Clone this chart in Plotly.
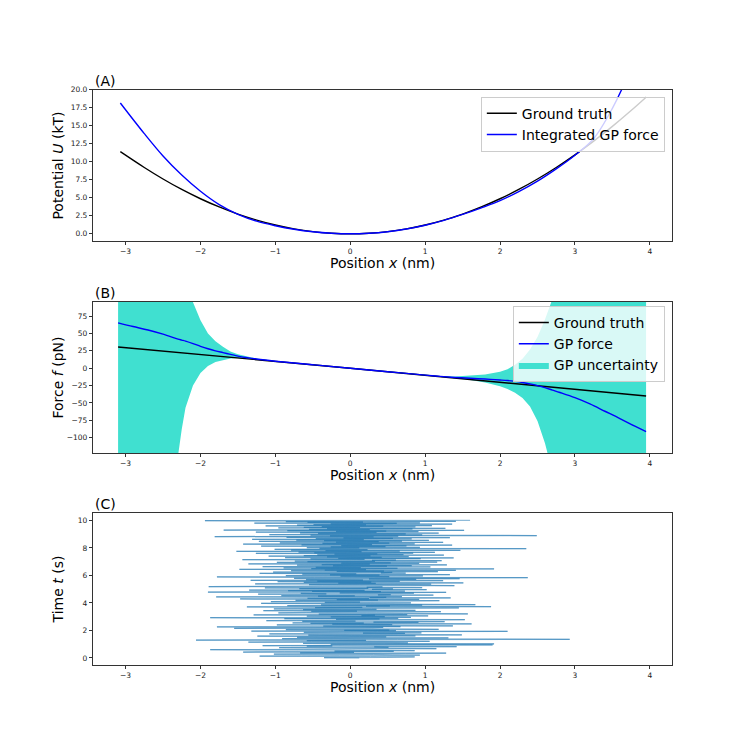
import numpy as np
import plotly.graph_objects as go

# (A) potential
pot_x = [-3.07, -2.75, -2.5, -2.25, -2.0, -1.75, -1.5, -1.25, -1.0, -0.75, -0.5, -0.25, 0.0,
         0.25, 0.5, 0.75, 1.0, 1.25, 1.5, 1.75, 2.0, 2.25, 2.5, 2.75, 3.0, 3.25, 3.5, 3.75, 3.95]
pot_true = [11.4, 9.2, 7.6, 6.15, 4.86, 3.72, 2.73, 1.9, 1.22, 0.68, 0.3, 0.08, 0.0,
            0.08, 0.3, 0.68, 1.22, 1.9, 2.73, 3.72, 4.86, 6.15, 7.6, 9.2, 10.95, 12.85, 14.9, 17.1, 18.95]
pot_gp = [18.15, 13.9, 10.8, 8.15, 5.9, 4.05, 2.7, 1.75, 1.12, 0.63, 0.28, 0.07, 0.0,
          0.07, 0.29, 0.66, 1.18, 1.85, 2.68, 3.6, 4.6, 5.85, 7.3, 9.0, 10.9, 13.2, 17.4, 23.0, 28.5]

# (B) force: GP mean and uncertainty band edges
force_x = [-3.10, -2.90, -2.70, -2.50, -2.30, -2.25, -2.20, -2.10, -2.00, -1.90, -1.80,
           -1.70, -1.60, -1.50, -1.40, -1.30, -1.20, -1.00, -0.50, 0.00, 0.50, 1.00,
           1.20, 1.40, 1.60, 1.80, 2.00, 2.10, 2.20, 2.30, 2.40, 2.50, 2.60, 2.70,
           2.80, 3.00, 3.20, 3.40, 3.60, 3.80, 3.95]
force_gp = [65.3, 60.0, 55.0, 49.0, 42.0, 40.5, 39.0, 35.5, 31.5, 28.0, 25.0,
            22.5, 20.0, 17.5, 15.5, 14.0, 12.5, 10.0, 5.0, 0.0, -5.0, -10.0,
            -11.8, -13.3, -14.5, -15.6, -17.0, -17.8, -19.0, -20.5, -22.5, -25.0, -28.0, -31.5,
            -35.0, -42.5, -51.5, -62.0, -72.5, -83.5, -91.5]
force_upper = [2500, 1300, 650, 350, 200, 165, 135, 95, 69, 50, 39,
               31, 24, 20, 17, 15, 13.2, 10.4, 5.2, 0.2, -4.8, -9.6,
               -11.1, -12.0, -11.0, -9.0, -5.0, -1.5, 5.0, 13.6, 27.0, 45.0, 70.0, 100.0,
               140.0, 260.0, 450.0, 750.0, 1200.0, 1800.0, 2400.0]
force_lower = [-2500, -1300, -600, -280, -125, -88, -57, -25, -7, 3, 9,
               12, 14, 14.8, 14, 13, 11.8, 9.6, 4.8, -0.2, -5.2, -10.4,
               -12.5, -14.6, -17.0, -20.5, -26.0, -30.0, -35.5, -43.0, -55.0, -76.0, -108.0, -150.0,
               -210.0, -380.0, -600.0, -950.0, -1400.0, -2000.0, -2600.0]
force_true_x = [-3.10, 0.0, 3.95]
force_true = [30.5, 0.0, -40.0]

# (C) trajectory positions (nm), equally spaced in time over 10 s
traj_x = [
    0.12, -0.35, 0.48, 0.86, 0.27, -1.21, -0.65, -0.14, 0.93, 0.56, 0.31, -1.02, -0.44, 0.74, 1.28, -0.67, 0.05, -1.43, -0.88, 0.58,
    -0.21, 0.86, 0.44, -0.19, -1.87, -0.62, 0.09, 1.15, 0.73, -0.38, -0.95, 0.51, 0.32, 1.42, -0.58, -0.24, -1.17, 0.69, 1.90, -0.26,
    0.34, 1.92, -0.63, -0.18, 0.77, 0.45, -1.36, -0.52, 1.06, 0.23, -0.58, 0.21, -2.06, 0.63, 2.93, 0.47, -0.91, -0.15, 1.31, -0.39,
    -0.71, 0.48, 0.12, -1.24, 0.87, 0.02, -0.56, 1.49, 0.33, -0.41, -1.08, 0.73, 0.17, 0.95, -0.62, -0.29, 0.36, 2.10, -1.32, 0.61,
    -0.08, 0.52, -0.86, 1.18, 0.41, 0.29, -1.55, -0.83, 0.12, 0.44, -1.78, 0.67, -0.36, 1.37, 0.69, 0.11, -0.98, 0.56, -0.24, 1.62,
    -0.53, 0.18, -0.77, 0.91, 0.31, 1.26, -0.64, 0.07, -1.12, -0.72, 0.45, 1.53, -0.19, 0.39, -0.88, 0.64, -1.41, -1.87, 0.81, -0.26,
    0.46, -0.58, 1.04, 0.15, 0.33, -1.29, 0.76, -0.42, 1.57, 0.71, 0.22, -0.96, -0.58, 0.35, 1.21, -0.52, 0.09, -1.16, 0.87, -0.11,
    -0.63, 0.35, -1.02, -0.71, 0.28, 1.45, -0.47, 0.16, -1.38, 1.88, 0.21, 0.53, -0.84, 0.96, -0.39, 1.67, 0.61, 0.27, -1.19, 0.44,
    0.81, -0.34, 0.13, -1.06, -0.62, 0.49, 1.19, -0.73, 0.37, -0.18, 0.92, -1.47, 0.25, -0.57, 1.34, 0.26, 0.48, -1.79, 0.69, -0.43,
    0.06, -0.92, 1.11, 0.37, 0.54, -1.23, -0.32, -0.66, 0.85, -0.14, 1.28, -1.90, 0.41, -0.51, 0.73, -0.83, 0.19, -1.35, 1.02, 0.29,
    0.57, -0.68, 0.24, -1.14, 0.96, 0.22, 0.43, -1.89, -0.71, -0.37, 1.39, 0.81, 0.12, -0.55, 1.08, -1.27, 0.34, -0.16, 1.51, -0.62,
    0.28, -0.97, 0.66, -0.44, 1.24, -1.33, 0.17, -0.59, 0.88, 0.25, 1.46, -0.75, 0.31, 2.37, -0.48, -1.78, 0.52, -0.13, 0.97, -0.86,
    0.39, -0.27, 1.33, -0.64, 0.08, -1.21, 0.74, 0.41, 0.56, -1.03, 1.17, -0.18, 0.45, -0.79, 1.41, -0.34, 0.21, -1.48, 1.92, -0.52,
    0.63, -0.89, 0.14, -0.46, 1.07, -1.17, 0.49, -0.23, 0.82, -0.71, 1.29, -0.38, 0.26, -1.36, 0.92, -0.12, 0.54, -0.98, 1.16, -0.57,
    0.33, -0.74, 1.22, 0.29, 0.61, -1.44, 0.19, -0.53, 0.94, -0.16, 1.38, -0.87, 0.42, -0.31, 0.78, -1.09, 0.27, -0.62, 1.25, -0.44,
    0.71, -0.21, 0.36, -1.26, 0.84, -0.48, 1.13, -0.69, 0.15, -1.52, 0.66, -0.33, 1.47, -0.79, 0.23, -1.01, 0.58, 2.35, -0.41, 0.12,
    -0.58, 0.93, -0.26, 0.47, -1.19, 0.75, -0.12, 1.36, -0.65, 0.29, -1.43, 0.86, -0.37, 0.52, -0.94, 1.24, -0.19, 0.38, -1.22, 0.69,
    -0.35, 1.05, -0.72, 0.18, -1.31, 0.82, -0.46, 0.57, -0.09, 1.33, -0.85, 0.31, -1.81, 0.64, -0.27, 2.49, -0.53, 0.96, -1.08, 0.22,
    0.74, -0.43, 1.18, -0.67, 0.35, -1.26, 0.91, -0.19, 0.48, -0.84, 1.52, -1.69, 0.26, -0.55, 0.83, -0.31, 1.27, -0.96, 0.13, -0.62,
    0.87, -0.38, 0.44, -1.13, 1.09, -0.71, 0.21, -0.49, 1.36, -0.26, 0.62, -1.28, 0.93, -0.57, 0.17, -0.86, 1.41, -0.45, -1.94, 1.60,
]
traj_t_end = 10.0

x_ticks = [-3, -2, -1, 0, 1, 2, 3, 4]
pot_ticks = [0.0, 2.5, 5.0, 7.5, 10.0, 12.5, 15.0, 17.5, 20.0]
force_ticks = [-100, -75, -50, -25, 0, 25, 50, 75]
time_ticks = [0, 2, 4, 6, 8, 10]

FONT = "DejaVu Sans"
TURQ = "#40e0d0"
TRAJ = "rgba(31,119,180,0.5)"

fig = go.Figure()

# (A)
fig.add_trace(go.Scatter(x=pot_x, y=pot_true, mode="lines", name="Ground truth",
                         line=dict(color="black", width=1.4, shape="spline"),
                         xaxis="x", yaxis="y", legend="legend"))
fig.add_trace(go.Scatter(x=pot_x, y=pot_gp, mode="lines", name="Integrated GP force",
                         line=dict(color="blue", width=1.4, shape="spline"),
                         xaxis="x", yaxis="y", legend="legend"))

# (B) band first so the lines sit on top
fig.add_trace(go.Scatter(x=force_x, y=force_lower, mode="lines", line=dict(width=0, color=TURQ),
                         showlegend=False, hoverinfo="skip", xaxis="x2", yaxis="y2"))
fig.add_trace(go.Scatter(x=force_x, y=force_upper, mode="lines", fill="tonexty", fillcolor=TURQ,
                         line=dict(width=0, color=TURQ), name="GP uncertainty", legendrank=3,
                         xaxis="x2", yaxis="y2", legend="legend2"))
fig.add_trace(go.Scatter(x=force_true_x, y=force_true, mode="lines", name="Ground truth", legendrank=1,
                         line=dict(color="black", width=1.4), xaxis="x2", yaxis="y2", legend="legend2"))
fig.add_trace(go.Scatter(x=force_x, y=force_gp, mode="lines", name="GP force", legendrank=2,
                         line=dict(color="blue", width=1.4, shape="spline"),
                         xaxis="x2", yaxis="y2", legend="legend2"))

# (C) split the trajectory into interleaved traces so overlaps darken
traj_t = np.linspace(0, traj_t_end, len(traj_x))
n_groups = 8
for k in range(n_groups):
    xs, ts = [], []
    for i in range(k, len(traj_x) - 1, n_groups):
        xs += [traj_x[i], traj_x[i + 1], None]
        ts += [traj_t[i], traj_t[i + 1], None]
    fig.add_trace(go.Scatter(x=xs, y=ts, mode="lines", line=dict(color=TRAJ, width=1.25),
                             showlegend=False, hoverinfo="skip", xaxis="x3", yaxis="y3"))


def axis(domain, rng, ticks, fmt=None, anchor=None):
    d = dict(domain=domain, range=rng, tickvals=ticks, showline=True, linecolor="#333",
             linewidth=1, mirror=True, ticks="outside", ticklen=3.5, tickwidth=0.8,
             tickcolor="#333", tickfont=dict(size=7.5, color="#222"), showgrid=False,
             zeroline=False, anchor=anchor)
    if fmt:
        d["tickformat"] = fmt
    return d


x_dom = [0.125, 0.9]
dom_a = [0.6774, 0.88]
dom_b = [0.3937, 0.5963]
dom_c = [0.11, 0.3126]
x_rng = [-3.43, 4.30]

legend_style = dict(bgcolor="rgba(255,255,255,0.8)", bordercolor="#cccccc", borderwidth=1,
                    font=dict(family=FONT, size=14, color="black"), xanchor="right",
                    yanchor="top", itemwidth=30, tracegroupgap=0, traceorder="normal")

annotations = []
for letter, dom in [("(A)", dom_a), ("(B)", dom_b), ("(C)", dom_c)]:
    annotations.append(dict(text=letter, x=x_dom[0], y=dom[1], xref="paper", yref="paper",
                            xanchor="left", yanchor="bottom", showarrow=False, yshift=-1,
                            font=dict(size=14)))
for dom in [dom_a, dom_b, dom_c]:
    annotations.append(dict(text="Position <i>x</i> (nm)", x=sum(x_dom) / 2, y=dom[0] - 0.027,
                            xref="paper", yref="paper", xanchor="center", yanchor="middle",
                            showarrow=False, yshift=-2, font=dict(size=14)))
for label, dom in [("Potential <i>U</i> (kT)", dom_a), ("Force <i>f</i> (pN)", dom_b),
                   ("Time <i>t</i> (s)", dom_c)]:
    annotations.append(dict(text=label, x=0.078, y=sum(dom) / 2, xref="paper", yref="paper",
                            xanchor="center", yanchor="middle", textangle=-90,
                            showarrow=False, font=dict(size=14)))

fig.update_layout(
    width=747,
    height=747,
    margin=dict(l=0, r=0, t=0, b=0),
    template="none",
    paper_bgcolor="white",
    plot_bgcolor="white",
    font=dict(family=FONT, color="black"),
    xaxis=axis(x_dom, x_rng, x_ticks, anchor="y"),
    yaxis=axis(dom_a, [-1.0, 20.0], pot_ticks, fmt=".1f", anchor="x"),
    xaxis2=axis(x_dom, x_rng, x_ticks, anchor="y2"),
    yaxis2=axis(dom_b, [-122, 96], force_ticks, anchor="x2"),
    xaxis3=axis(x_dom, x_rng, x_ticks, anchor="y3"),
    yaxis3=axis(dom_c, [-0.5, 10.5], time_ticks, anchor="x3"),
    legend=dict(x=0.89, y=0.8706, **legend_style),
    legend2=dict(x=0.89, y=0.5904, **legend_style),
    annotations=annotations,
)

# drop the default page margin so the figure sits at the window corner
fig.write_html("out.html", config={"displayModeBar": False},
               post_script="document.body.style.margin = '0px';")
